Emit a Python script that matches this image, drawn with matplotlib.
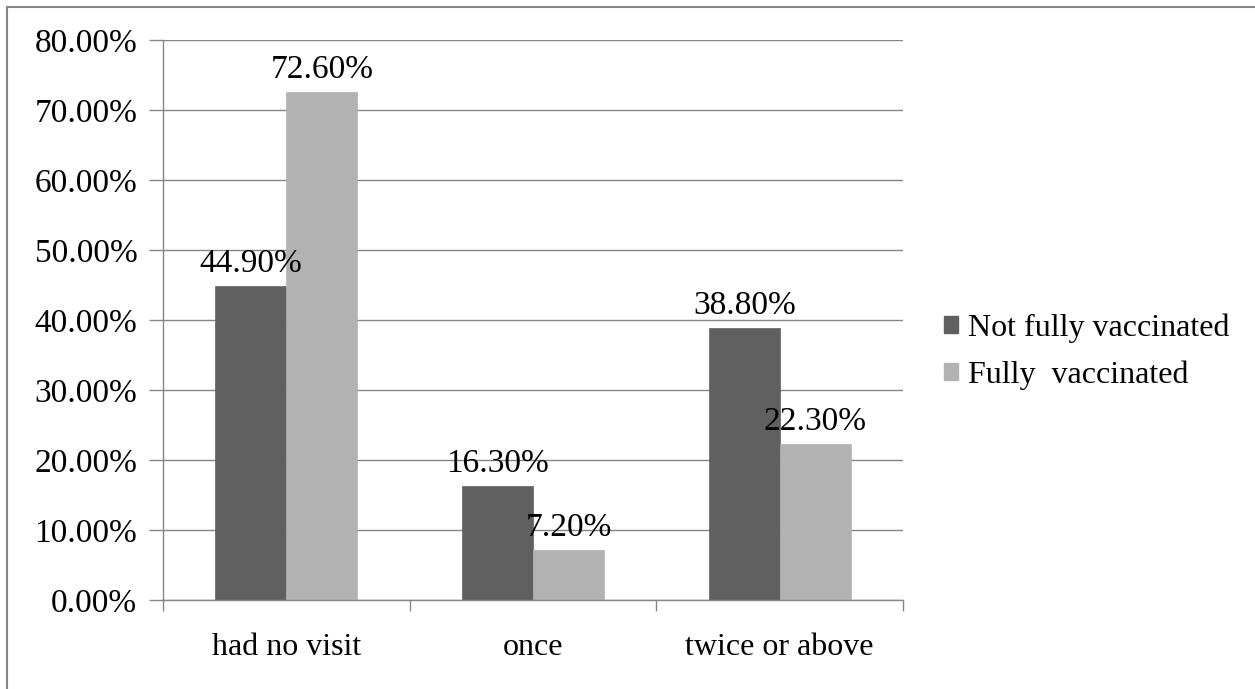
import matplotlib
matplotlib.use("Agg")
import matplotlib.pyplot as plt
import numpy as np
from matplotlib.patches import Rectangle, Patch
from matplotlib.ticker import FuncFormatter, FixedLocator

categories = ["had no visit", "once", "twice or above"]
series_names = ["Not fully vaccinated", "Fully  vaccinated"]
not_fully = [0.449, 0.163, 0.388]
fully = [0.726, 0.072, 0.223]
colors = ["#606060", "#b2b2b2"]

plt.rcParams['font.family'] = ['Liberation Serif', 'DejaVu Serif']
FS = 24
FS_CAT = 23
FS_LEG = 23

fig = plt.figure(figsize=(12.55, 6.89), dpi=100)
ax = fig.add_axes([163/1255, 1-600/689, (903-163)/1255, (600-40)/689])

x = np.arange(len(categories))
w = 0.2875
for vals, name, col, off in [(not_fully, series_names[0], colors[0], -w/2),
                             (fully, series_names[1], colors[1], w/2)]:
    bars = ax.bar(x + off, vals, width=w, color=col, label=name,
                  edgecolor=col, linewidth=0.5, zorder=3)
    for b, v in zip(bars, vals):
        ax.annotate(f"{v*100:.2f}%", (b.get_x() + b.get_width()/2, v),
                    xytext=(0, 5), textcoords="offset points",
                    ha="center", va="bottom", fontsize=FS, color="#000000", zorder=5)

ax.set_xlim(-0.5, 2.5)
ax.set_ylim(0, 0.8)
ax.set_yticks(np.arange(0, 0.81, 0.1))
ax.yaxis.set_major_formatter(FuncFormatter(lambda v, p: f"{v*100:.2f}%"))
ax.set_xticks(x)
ax.set_xticklabels(categories)
ax.xaxis.set_minor_locator(FixedLocator([-0.5, 0.5, 1.5, 2.5]))
ax.tick_params(axis='x', which='major', length=0, pad=24, labelsize=FS_CAT)
ax.tick_params(axis='x', which='minor', length=8, color="#868686", width=1)
ax.tick_params(axis='y', which='major', length=10, color="#868686", width=1,
               pad=8.5, labelsize=FS)
ax.grid(axis='y', color="#868686", linewidth=1, zorder=0)
for s in ["top", "right"]:
    ax.spines[s].set_visible(False)
for s in ["left", "bottom"]:
    ax.spines[s].set_color("#868686")
    ax.spines[s].set_linewidth(1)
    ax.spines[s].set_zorder(4)

handles = [Patch(facecolor=c, edgecolor=c) for c in colors]
fig.legend(handles, series_names, loc="center left",
           bbox_to_anchor=(944/1255, 1-352/689), frameon=False, fontsize=FS_LEG,
           handlelength=0.45, handleheight=0.45, handletextpad=0.3,
           labelspacing=0.55, borderpad=0, borderaxespad=0)

fig.patches.append(Rectangle((7/1255, -0.1), 1.2, 1-7/689 + 0.1,
                             transform=fig.transFigure, fill=False,
                             edgecolor="#868686", linewidth=1.5))

fig.savefig("out.png", dpi=100)
